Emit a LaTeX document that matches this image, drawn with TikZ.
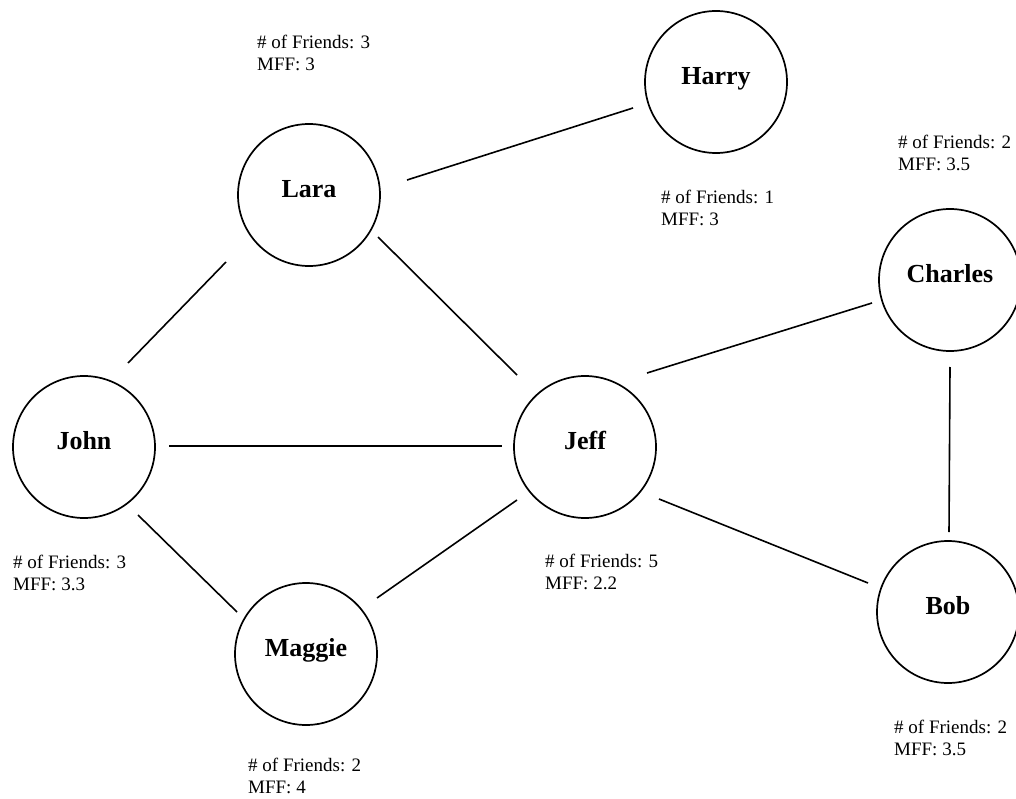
\documentclass[tikz,border=0pt]{standalone}
\usepackage{fontspec}
\setmainfont{Liberation Serif}
\usetikzlibrary{calc}
\tikzset{
  person/.style={circle, draw, line width=1.7pt, minimum size=142pt, inner sep=0pt,
    font=\bfseries\fontsize{26}{30}\selectfont, text height=0.7em, text depth=0.2em},
  link/.style={line width=1.6pt},
  info/.style={anchor=north west, inner sep=0pt, align=left,
    font=\fontsize{19}{22}\selectfont}
}
\begin{document}
\begin{tikzpicture}[x=1pt,y=-1pt]
\useasboundingbox (0,0) rectangle (1016,799);
% people
\node[person] (harry)   at (716,82)  {Harry};
\node[person] (lara)    at (309,195) {Lara};
\node[person] (charles) at (950,280) {Charles};
\node[person] (john)    at (84,447)  {John};
\node[person] (jeff)    at (585,447) {Jeff};
\node[person] (maggie)  at (306,654) {Maggie};
\node[person] (bob)     at (948,612) {Bob};
% friendships
\draw[link] ($(lara)+(98,-15)$) -- ($(harry)+(-83,26)$);
\draw[link] ($(lara)+(69,42)$) -- ($(jeff)+(-68,-72)$);
\draw[link] ($(lara)+(-83,67)$) -- ($(john)+(44,-84)$);
\draw[link] ($(john)+(85,-1)$) -- ($(jeff)+(-83,-1)$);
\draw[link] ($(john)+(54,68)$) -- ($(maggie)+(-69,-42)$);
\draw[link] ($(maggie)+(71,-56)$) -- ($(jeff)+(-68,53)$);
\draw[link] ($(jeff)+(62,-74)$) -- ($(charles)+(-78,23)$);
\draw[link] ($(jeff)+(74,52)$) -- ($(bob)+(-80,-29)$);
\draw[link] ($(charles)+(0,87)$) -- ($(bob)+(1,-80)$);
% statistics
\node[info] (laraInfo)    at (257,35)  {\# of Friends: 3\\MFF: 3};
\node[info] (harryInfo)   at (661,190) {\# of Friends: 1\\MFF: 3};
\node[info] (charlesInfo) at (898,135) {\# of Friends: 2\\MFF: 3.5};
\node[info] (johnInfo)    at (13,555)  {\# of Friends: 3\\MFF: 3.3};
\node[info] (jeffInfo)    at (545,554) {\# of Friends: 5\\MFF: 2.2};
\node[info] (maggieInfo)  at (248,758) {\# of Friends: 2\\MFF: 4};
\node[info] (bobInfo)     at (894,720) {\# of Friends: 2\\MFF: 3.5};
\end{tikzpicture}
\end{document}
